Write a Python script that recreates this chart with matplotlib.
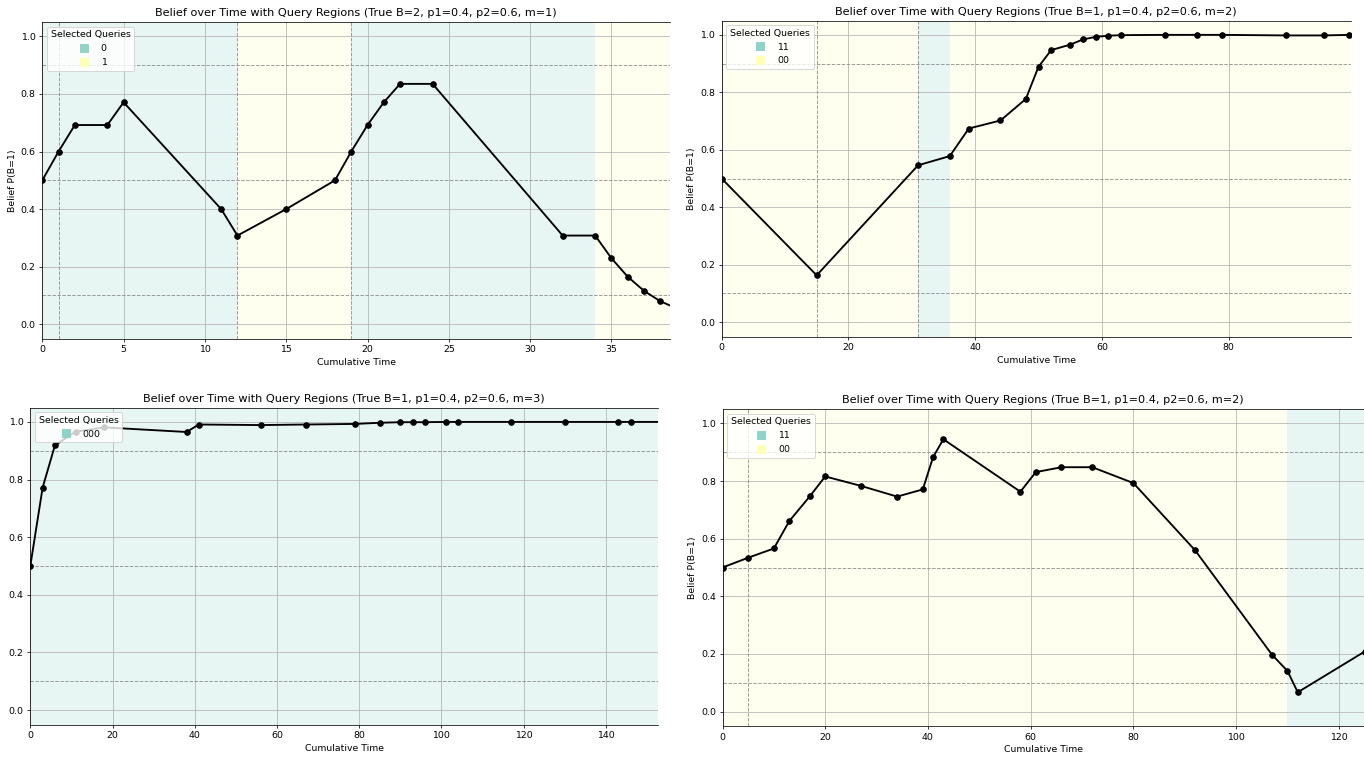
import matplotlib
matplotlib.use('Agg')
import matplotlib.pyplot as plt
from matplotlib.lines import Line2D

# run 1: true B=2, m=1
t1 = [0, 1, 2, 4, 5, 11, 12, 15, 18, 19, 20, 21, 22, 24, 32, 34, 35, 36, 37, 38, 39]
b1 = [0.5, 0.6, 0.692, 0.692, 0.771, 0.4, 0.308, 0.4, 0.5, 0.6, 0.692, 0.771, 0.835, 0.835,
      0.308, 0.308, 0.229, 0.165, 0.116, 0.080, 0.055]
q1 = ['0', '1']
spans1 = [(0, 12, '0'), (12, 19, '1'), (19, 34, '0'), (34, 40, '1')]
marks1 = [1, 12, 19]

# run 2: true B=1, m=2
t2 = [0, 15, 31, 36, 39, 44, 48, 50, 52, 55, 57, 59, 61, 63, 70, 75, 79, 89, 95, 99]
b2 = [0.5, 0.163, 0.546, 0.578, 0.674, 0.702, 0.777, 0.889, 0.947, 0.966, 0.984, 0.993,
      0.997, 0.999, 1.0, 1.0, 1.0, 0.998, 0.998, 1.0]
q2 = ['11', '00']
spans2 = [(0, 31, '00'), (31, 36, '11'), (36, 101, '00')]
marks2 = [15, 31]

# run 3: true B=1, m=3
t3 = [0, 3, 6, 11, 18, 38, 41, 56, 67, 79, 85, 90, 93, 96, 101, 104, 117, 130, 143, 146, 156]
b3 = [0.5, 0.772, 0.919, 0.966, 0.981, 0.965, 0.991, 0.989, 0.991, 0.993, 0.997, 0.999,
      0.999, 0.999, 1.0, 1.0, 1.0, 1.0, 1.0, 1.0, 1.0]
q3 = ['000']
spans3 = [(0, 156, '000')]
marks3 = []

# run 4: true B=1, m=2
t4 = [0, 5, 10, 13, 17, 20, 27, 34, 39, 41, 43, 58, 61, 66, 72, 80, 92, 107, 110, 112, 125]
b4 = [0.5, 0.534, 0.566, 0.661, 0.747, 0.816, 0.783, 0.746, 0.771, 0.883, 0.945, 0.763,
      0.831, 0.848, 0.848, 0.793, 0.560, 0.197, 0.141, 0.067, 0.208]
q4 = ['11', '00']
spans4 = [(0, 110, '00'), (110, 126, '11')]
marks4 = [5]

set3 = ['#8dd3c7', '#ffffb3']
W, H, DPI = 1364, 757, 67.5
fig = plt.figure(figsize=(W/DPI, H/DPI), dpi=DPI)

def panel(px, t, b, spans, marks, queries, title, xmax, ylabel=True):
    l, r, top, bot = px
    ax = fig.add_axes([l/W, 1-bot/H, (r-l)/W, (bot-top)/H])
    cols = dict(zip(queries, set3))
    for a, z, q in spans:
        ax.axvspan(a, z, color=cols[q], alpha=0.2, lw=0)
    for y in (0.1, 0.5, 0.9):
        ax.axhline(y, ls='--', color='gray', lw=1, alpha=0.8)
    for x in marks:
        ax.axvline(x, ls='--', color='gray', lw=1, alpha=0.8)
    ax.plot(t, b, 'k-o', lw=2, ms=6)
    ax.set_xlim(0, xmax); ax.set_ylim(-0.05, 1.05)
    ax.grid(True)
    ax.spines['right'].set_visible(False)
    ax.set_title(title)
    ax.set_xlabel('Cumulative Time')
    if ylabel: ax.set_ylabel('Belief P(B=1)')
    hs = [Line2D([], [], marker='s', ls='', color=cols[q], ms=9, label=q) for q in queries]
    ax.legend(handles=hs, title='Selected Queries', loc='upper left')
    return ax

ttl = 'Belief over Time with Query Regions (True B={}, p1=0.4, p2=0.6, m={})'
panel((42.3, 670, 22, 338.6), t1, b1, spans1, marks1, q1, ttl.format(2, 1), 38.6)
panel((721.6, 1351, 20.5, 336.5), t2, b2, spans2, marks2, q2, ttl.format(1, 2), 99.3)
panel((30.3, 657.7, 407.5, 724.5), t3, b3, spans3, marks3, q3, ttl.format(1, 3), 152.6, ylabel=False)
panel((722.5, 1363.5, 409, 726), t4, b4, spans4, marks4, q4, ttl.format(1, 2), 124.8)

fig.savefig('out.png', dpi=DPI)
